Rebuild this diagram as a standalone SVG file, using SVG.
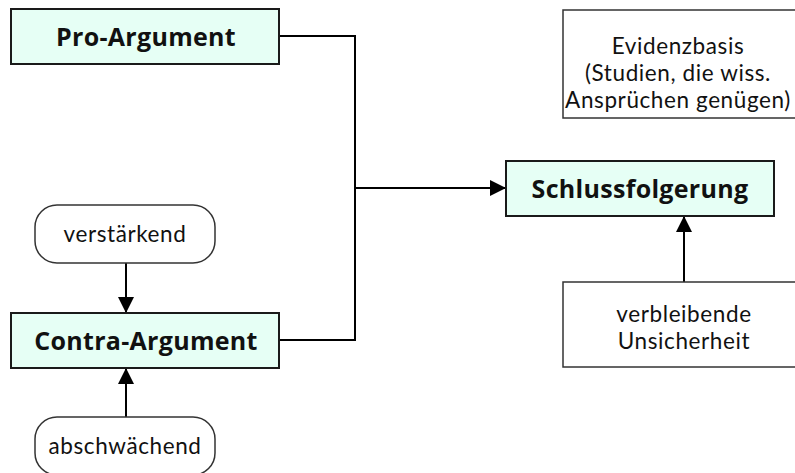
<svg xmlns="http://www.w3.org/2000/svg" width="795" height="473" viewBox="0 0 795 473">
<defs>
<style>
.box{fill:#e6fff5;stroke:#1a1a1a;stroke-width:2}
.plain{fill:#fff;stroke:#333;stroke-width:1.5}
.b{font-family:"Open Sans","Lato",sans-serif;font-weight:bold;font-size:25px;letter-spacing:0.3px;fill:#111;text-anchor:middle}
.r{font-family:"Lato","Open Sans",sans-serif;font-size:22.5px;letter-spacing:0.6px;fill:#111;text-anchor:middle}
.c{fill:none;stroke:#000;stroke-width:2}
</style>
<marker id="ah" viewBox="0 0 16 16" refX="16" refY="8" markerWidth="16" markerHeight="16" markerUnits="userSpaceOnUse" orient="auto">
<path d="M0,0 L16,8 L0,16 Z" fill="#000"/>
</marker>
</defs>
<g id="connectors">
<polyline class="c" points="279,36 355,36 355,340 279,340"/>
<line class="c" x1="355" y1="188" x2="506" y2="188" marker-end="url(#ah)"/>
<line class="c" x1="126" y1="263" x2="126" y2="313" stroke-width="1.5" marker-end="url(#ah)"/>
<line class="c" x1="126" y1="417" x2="126" y2="368" stroke-width="1.5" marker-end="url(#ah)"/>
<line class="c" x1="684" y1="282" x2="684" y2="216" stroke-width="1.5" marker-end="url(#ah)"/>
</g>
<g id="pro">
<rect class="box" x="11" y="9" width="268" height="55"/>
<text class="b" x="146" y="46">Pro-Argument</text>
</g>
<g id="contra">
<rect class="box" x="11" y="313" width="268" height="55"/>
<text class="b" x="146" y="350">Contra-Argument</text>
</g>
<g id="schluss">
<rect class="box" x="506" y="161" width="268" height="55"/>
<text class="b" x="640" y="198">Schlussfolgerung</text>
</g>
<g id="evidenz">
<rect class="plain" x="563" y="10" width="245" height="108"/>
<text class="r" x="678" y="54">Evidenzbasis</text>
<text class="r" x="678" y="81">(Studien, die wiss.</text>
<text class="r" x="678" y="108">Ansprüchen genügen)</text>
</g>
<g id="unsicherheit">
<rect class="plain" x="563" y="282" width="245" height="85"/>
<text class="r" x="684" y="322">verbleibende</text>
<text class="r" x="684" y="349">Unsicherheit</text>
</g>
<g id="verstaerkend">
<rect class="plain" x="35" y="205" width="180" height="58" rx="22" ry="22"/>
<text class="r" x="125" y="242">verstärkend</text>
</g>
<g id="abschwaechend">
<rect class="plain" x="35" y="417" width="180" height="58" rx="22" ry="22"/>
<text class="r" x="125" y="454">abschwächend</text>
</g>
</svg>
